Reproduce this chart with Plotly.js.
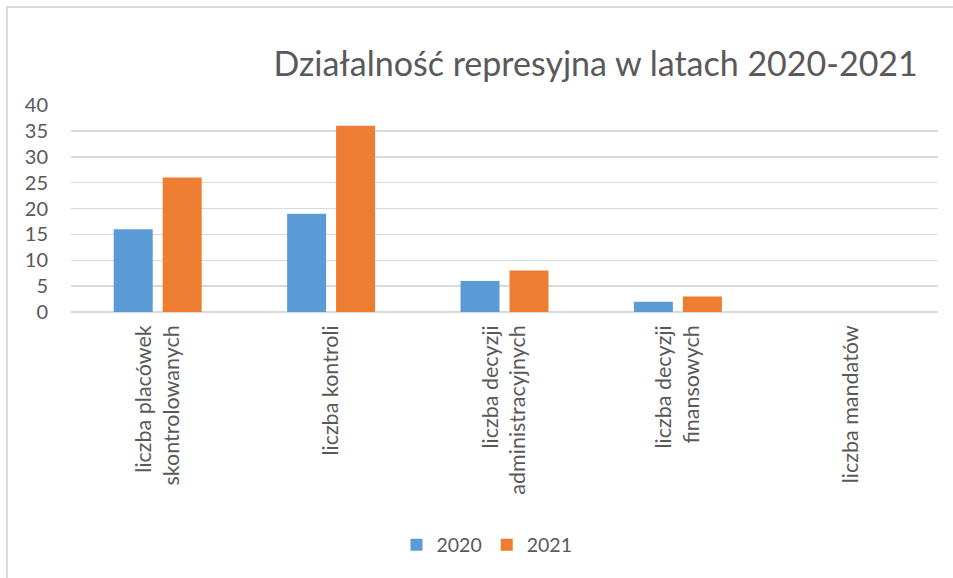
<!DOCTYPE html>
<html>
<head>
<meta charset="utf-8">
<script src="https://cdn.plot.ly/plotly-3.0.1.min.js"></script>
<style>
  html, body { margin: 0; padding: 0; background: #fff; }
  #wrap { position: relative; width: 953px; height: 578px; overflow: hidden; }
  #chart { width: 953px; height: 578px; }
  #frame { position: absolute; left: 6px; top: 6px; width: 960px; height: 600px;
           border-left: 2px solid #d9d9d9; border-top: 2px solid #d9d9d9; pointer-events: none; }
</style>
</head>
<body>
<div id="wrap">
  <div id="chart"></div>
  <div id="frame"></div>
</div>
<script>
const categories = [
  "liczba placówek<br>skontrolowanych",
  "liczba kontroli",
  "liczba decyzji<br>administracyjnych",
  "liczba decyzji<br>finansowych",
  "liczba mandatów"
];
const seriesNames = ["2020", "2021"];
const values2020 = [16, 19, 6, 2, 0];
const values2021 = [26, 36, 8, 3, 0];
const yTicks = [0, 5, 10, 15, 20, 25, 30, 35, 40];

const fontFamily = "Lato, 'Open Sans', sans-serif";
const textColor = "#595959";

const traces = [
  { type: "bar", name: seriesNames[0], x: categories, y: values2020,
    marker: { color: "#5B9BD5" }, hoverinfo: "x+y" },
  { type: "bar", name: seriesNames[1], x: categories, y: values2021,
    marker: { color: "#ED7D31" }, hoverinfo: "x+y" }
];

const layout = {
  width: 953, height: 578,
  margin: { l: 71, r: 15, t: 105, b: 266 },
  paper_bgcolor: "#ffffff", plot_bgcolor: "#ffffff",
  font: { family: fontFamily, color: textColor, size: 20 },
  title: {
    text: "Działalność represyjna w latach 2020-2021",
    font: { family: fontFamily, size: 34, color: textColor, weight: 400 },
    x: 0.625, xanchor: "center", xref: "container",
    y: 1 - 64 / 578, yanchor: "middle", yref: "container"
  },
  barmode: "group",
  bargap: 0.435,
  bargroupgap: 0.204,
  xaxis: {
    type: "category",
    tickangle: -90,
    tickfont: { family: fontFamily, size: 21.5, color: textColor },
    showgrid: false, zeroline: false, showline: false,
    ticks: "", ticklabelstandoff: 8,
    fixedrange: true
  },
  yaxis: {
    range: [0, 40],
    tickvals: yTicks,
    ticktext: yTicks.map(String),
    tickfont: { family: fontFamily, size: 20, color: textColor },
    showgrid: true, gridcolor: "#d9d9d9", gridwidth: 1.5,
    zeroline: true, zerolinecolor: "#d9d9d9", zerolinewidth: 1.5,
    showline: false, ticks: "", ticklabelstandoff: 22,
    fixedrange: true
  },
  showlegend: true,
  legend: {
    orientation: "h",
    xref: "container", yref: "container",
    x: 487 / 953, xanchor: "center",
    y: 1 - 545 / 578, yanchor: "middle",
    font: { family: fontFamily, size: 19.5, color: textColor },
    itemwidth: 30,
    traceorder: "normal"
  }
};

Plotly.newPlot("chart", traces, layout, { displayModeBar: false, staticPlot: true });
</script>
</body>
</html>
